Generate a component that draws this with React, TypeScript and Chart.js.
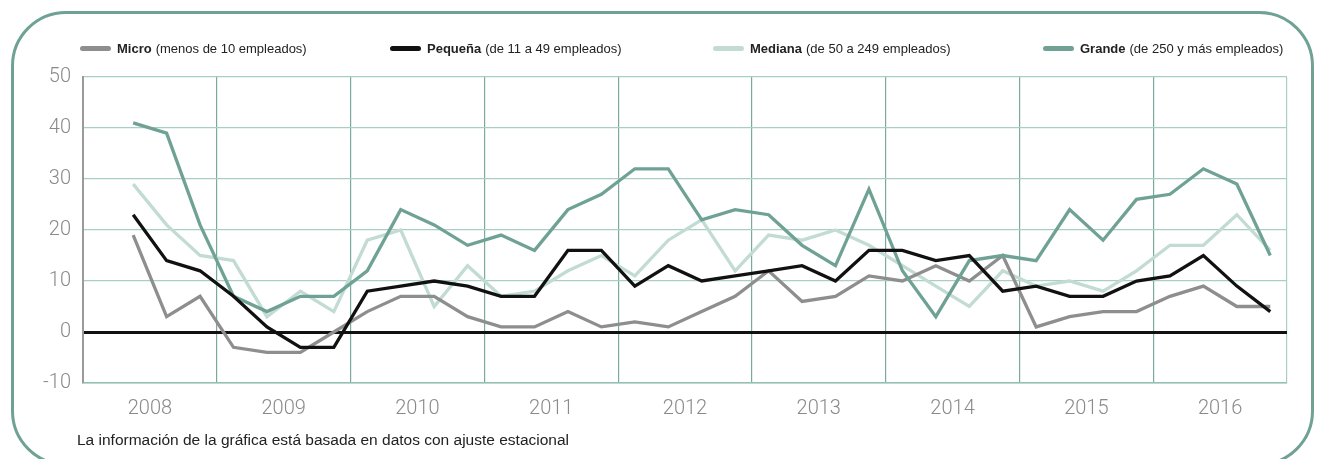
import React, { useEffect, useRef } from 'react';
import { Chart, registerables } from 'chart.js';

Chart.register(...registerables);

// ---- Data (quarterly, from 2nd quarter of 2008 to 4th quarter of 2016) ----
const years = ['2008', '2009', '2010', '2011', '2012', '2013', '2014', '2015', '2016'];
const firstQuarterIndex = 1; // first value is the 2nd quarter of 2008

const micro = [
  19, 3, 7,
  -3, -4, -4, 0,
  4, 7, 7, 3,
  1, 1, 4, 1,
  2, 1, 4, 7,
  12, 6, 7, 11,
  10, 13, 10, 15,
  1, 3, 4, 4,
  7, 9, 5, 5,
];
const pequena = [
  23, 14, 12,
  7, 1, -3, -3,
  8, 9, 10, 9,
  7, 7, 16, 16,
  9, 13, 10, 11,
  12, 13, 10, 16,
  16, 14, 15, 8,
  9, 7, 7, 10,
  11, 15, 9, 4,
];
const mediana = [
  29, 21, 15,
  14, 3, 8, 4,
  18, 20, 5, 13,
  7, 8, 12, 15,
  11, 18, 22, 12,
  19, 18, 20, 17,
  13, 9, 5, 12,
  9, 10, 8, 12,
  17, 17, 23, 16,
];
const grande = [
  41, 39, 21,
  7, 4, 7, 7,
  12, 24, 21, 17,
  19, 16, 24, 27,
  32, 32, 22, 24,
  23, 17, 13, 28,
  12, 3, 14, 15,
  14, 24, 18, 26,
  27, 32, 29, 15,
];

const seriesNames = ['Micro', 'Pequeña', 'Mediana', 'Grande'];
const seriesNotes = [
  '(menos de 10 empleados)',
  '(de 11 a 49 empleados)',
  '(de 50 a 249 empleados)',
  '(de 250 y más empleados)',
];
const seriesValues = [micro, pequena, mediana, grande];
const seriesColors = ['#8e8e8e', '#111111', '#c2dcd3', '#6fa295'];
const seriesOrder = [2, 0, 3, 1]; // lower order is drawn on top
const yTicks = [-10, 0, 10, 20, 30, 40, 50];
const footnote = 'La información de la gráfica está basada en datos con ajuste estacional';

const legendLefts = [80, 390, 713, 1043];

const TICK_FONT = { family: 'Roboto, "Liberation Sans", sans-serif', size: 20, weight: 300 as any };

export default function App() {
  const canvasRef = useRef<HTMLCanvasElement | null>(null);

  useEffect(() => {
    if (!canvasRef.current) return;
    const toPoints = (vals: number[]) => vals.map((v, i) => ({ x: firstQuarterIndex + i, y: v }));
    const chart = new Chart(canvasRef.current, {
      type: 'line',
      data: {
        datasets: seriesNames.map((name, k) => ({
          label: name,
          data: toPoints(seriesValues[k]),
          borderColor: seriesColors[k],
          backgroundColor: seriesColors[k],
          borderWidth: 3.3,
          pointRadius: 0,
          pointHoverRadius: 0,
          tension: 0,
          fill: false,
          order: seriesOrder[k],
          borderJoinStyle: 'miter' as const,
        })),
      },
      options: {
        animation: false,
        responsive: false,
        devicePixelRatio: 1,
        layout: { padding: { left: 8, top: 77, right: 30, bottom: 36 } },
        plugins: { legend: { display: false }, tooltip: { enabled: false } },
        scales: {
          x: {
            type: 'linear',
            min: -0.5,
            max: years.length * 4 - 0.5,
            bounds: 'data',
            afterBuildTicks: (scale: any) => {
              scale.ticks = years.map((_, i) => ({ value: i * 4 + 1.5 }));
            },
            afterFit: (scale: any) => {
              scale.height = 40;
            },
            ticks: {
              autoSkip: false,
              maxRotation: 0,
              padding: 14,
              color: '#8a8a8a',
              font: TICK_FONT,
              callback: (_v: any, i: number) => years[i],
            },
            grid: {
              offset: true,
              drawTicks: false,
              lineWidth: 1.2,
              color: (ctx: any) => {
                if (!ctx.tick) return '#a9cec4';
                if (ctx.index === 0) return '#9a9a9a';
                return '#7aaa9e';
              },
            },
            border: { color: '#93c0b4', width: 1.5 },
          },
          y: {
            type: 'linear',
            min: -10,
            max: 50,
            afterBuildTicks: (scale: any) => {
              scale.ticks = yTicks.map((v) => ({ value: v }));
            },
            afterFit: (scale: any) => {
              scale.width = 75;
            },
            ticks: {
              padding: 12,
              color: '#8a8a8a',
              font: TICK_FONT,
            },
            grid: {
              drawTicks: false,
              color: (ctx: any) => (ctx.tick && ctx.tick.value === 0 ? '#111111' : '#a9cec4'),
              lineWidth: (ctx: any) => (ctx.tick && ctx.tick.value === 0 ? 3 : 1.2),
            },
            border: { color: '#9a9a9a', width: 2 },
          },
        },
      },
    });
    return () => chart.destroy();
  }, []);

  return (
    <div
      style={{
        position: 'fixed',
        left: 0,
        top: 0,
        width: 1317,
        height: 459,
        overflow: 'hidden',
        background: '#ffffff',
        fontFamily: '"Liberation Sans", Arial, sans-serif',
      }}
    >
      <div
        style={{
          position: 'absolute',
          left: 11,
          top: 10.5,
          width: 1303,
          height: 455,
          boxSizing: 'border-box',
          border: '3px solid #6fa295',
          borderRadius: 55,
        }}
      />
      <canvas
        ref={canvasRef}
        width={1317}
        height={459}
        style={{ position: 'absolute', left: 0, top: 0, width: 1317, height: 459 }}
      />
      {seriesNames.map((name, k) => (
        <div
          key={name}
          style={{
            position: 'absolute',
            left: legendLefts[k],
            top: 39,
            height: 18,
            display: 'flex',
            alignItems: 'center',
            whiteSpace: 'nowrap',
            fontSize: 13,
            color: '#222',
          }}
        >
          <span
            style={{
              display: 'inline-block',
              width: 31,
              height: 5,
              borderRadius: 3,
              background: seriesColors[k],
              marginRight: 6,
            }}
          />
          <span style={{ fontWeight: 700 }}>{name}</span>
          <span style={{ marginLeft: 4 }}>{seriesNotes[k]}</span>
        </div>
      ))}
      <div
        style={{
          position: 'absolute',
          left: 77,
          top: 430,
          fontSize: 15.5,
          lineHeight: '20px',
          color: '#222',
          whiteSpace: 'nowrap',
        }}
      >
        {footnote}
      </div>
    </div>
  );
}
